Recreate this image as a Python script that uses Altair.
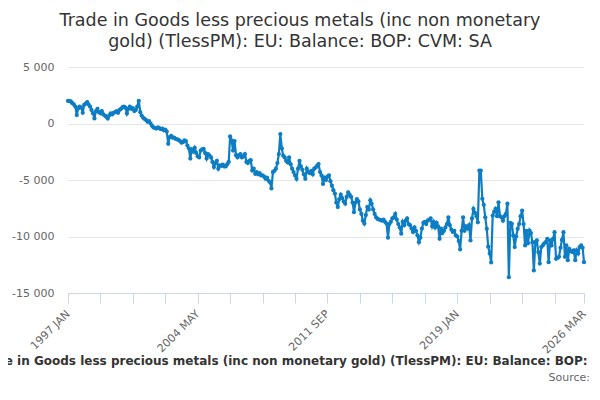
import altair as alt
import pandas as pd

title_lines = ["Trade in Goods less precious metals (inc non monetary",
               "gold) (TlessPM): EU: Balance: BOP: CVM: SA"]
series_name = "Trade in Goods less precious metals (inc non monetary gold) (TlessPM): EU: Balance: BOP: CVM: SA"
source_text = "Source:"
first_month = "1997-01-01"

# monthly values, GBP million, 1997 JAN .. 2026 MAR
balance = [
    2000, 1980, 1950, 1800, 1700, 1500, 750, 1350, 1500, 1400, 950, 1650,
    1750, 1900, 1700, 1500, 1200, 900, 450, 1100, 1300, 1000, 900, 1100,
    800, 700, 600, 440, 700, 900, 800, 950, 1000, 1100, 950, 1200,
    1300, 1450, 1500, 1400, 880, 1300, 1500, 1300, 1350, 1100, 1200, 1500,
    2000, 1000, 700, 500, 400, 300, 150, 200, 0, -200, -350, -400,
    -450, -350, -400, -500, -450, -600, -550, -700, -1800, -1200, -1100, -1250,
    -1250, -1350, -1400, -1450, -1550, -1700, -1650, -1500, -1550, -1950, -2200, -3100,
    -2300, -2500, -2150, -2600, -2900, -3000, -2400, -2300, -2250, -2600, -3100, -2700,
    -2850, -3000, -3400, -3850, -3500, -3300, -4000, -3700, -3750, -3650, -3800, -3800,
    -3600, -3400, -1150, -1500, -2400, -1550, -2800, -3000, -2800, -2700, -3000, -2900,
    -2700, -3400, -3500, -3300, -3250, -4150, -4000, -4450, -4300, -4500, -4400, -4600,
    -4600, -4700, -4900, -4800, -5050, -5200, -5750, -4300, -4200, -4000, -3500, -2700,
    -940, -2200, -2850, -3000, -3300, -3450, -3000, -3600, -4000, -4300, -4600, -4900,
    -4000, -3300, -3800, -4100, -4500, -4900, -4000, -4300, -4400, -4200, -4500, -4000,
    -3900, -3730, -3590, -4300, -4600, -5350, -4800, -5000, -4700, -4600, -5100, -5500,
    -5900, -6200, -7000, -7400, -6700, -6300, -6600, -6900, -7100, -6500, -6100, -6300,
    -6500, -7000, -7850, -7000, -6700, -6900, -7600, -8000, -8600, -8850, -8100, -7400,
    -7600, -6800, -7100, -7600, -8000, -8300, -8450, -8500, -8550, -8600, -8500, -8700,
    -8850, -10100, -8900, -8700, -8400, -8300, -8000, -8500, -8900, -9200, -9750, -8700,
    -9000, -8600, -8400, -8900, -9000, -9300, -9600, -9200, -9500, -9900, -10500, -10100,
    -9300, -8800, -8700, -8900, -8600, -8500, -8400, -9100, -8700, -9200, -8800, -9100,
    -10200, -9300, -9700, -9500, -9200, -8900, -8300, -9000, -9400, -9600, -9500, -9900,
    -10000, -10400, -11150, -9500, -8300, -9500, -9100, -9300, -9000, -10350, -8400, -7560,
    -7900, -8200, -8740, -4170, -4170, -6670, -7200, -8300, -9320, -10900, -11500, -12300,
    -8150, -7800, -7560, -8200, -6970, -8200, -8300, -8600, -8200, -8000, -7100, -13600,
    -8800, -8880, -9910, -10940, -10000, -9320, -8900, -8200, -7700, -8900, -10790, -9500,
    -10600, -9470, -9700, -10500, -13000, -10500, -10350, -11380, -12400, -10940, -10790, -10600,
    -10500, -10200, -12270, -10350, -10800, -10200, -9620, -11970, -11900, -11800, -11000, -10300,
    -9620, -11800, -10790, -12100, -11100, -11300, -11380, -11230, -12100, -11230, -11500, -10940,
    -10790, -11000, -12270,
]

# x-axis ticks (year, month) and which of them carry a label
x_ticks = [(1997, 1), (1998, 11), (2000, 9), (2002, 7), (2004, 5), (2006, 3), (2008, 1),
           (2009, 11), (2011, 9), (2013, 7), (2015, 5), (2017, 3), (2019, 1), (2020, 11),
           (2022, 9), (2024, 7), (2026, 3)]
x_labels = ["1997 JAN", "2004 MAY", "2011 SEP", "2019 JAN", "2026 MAR"]
y_ticks = [-15000, -10000, -5000, 0, 5000]
y_domain = [-15000, 5000]

dates = pd.date_range(first_month, periods=len(balance), freq="MS").strftime("%Y-%m-%d")
df = pd.DataFrame({"date": dates, "value": balance})

blue = "#0d7dc4"
font = "DejaVu Sans"

label_list = "[" + ",".join("'" + s + "'" for s in x_labels) + "]"
x_label_expr = ("indexof(" + label_list + ", upper(utcFormat(datum.value, '%Y %b'))) >= 0 ? "
                "upper(utcFormat(datum.value, '%Y %b')) : ''")
y_label_expr = "replace(replace(format(datum.value, ','), ',', ' '), '\u2212', '-')"

line = alt.Chart(df).mark_line(
    color=blue, strokeWidth=2.2,
    point=alt.OverlayMarkDef(filled=True, size=18, color=blue),
).encode(
    x=alt.X("date:T",
            scale=alt.Scale(type="utc", domain=[dates[0], dates[-1]], nice=False),
            axis=alt.Axis(
                values=[alt.DateTime(year=y, month=m, date=1, utc=True) for y, m in x_ticks],
                labelExpr=x_label_expr, labelAngle=-45, labelAlign="right",
                labelBaseline="middle", labelFont=font, labelFontSize=11,
                labelColor="#666666", labelPadding=9, labelOverlap=False,
                tickSize=10, tickColor="#ccd6eb", domainColor="#ccd6eb",
                grid=False, title=None)),
    y=alt.Y("value:Q",
            scale=alt.Scale(domain=y_domain, nice=False, zero=False),
            axis=alt.Axis(values=y_ticks, labelExpr=y_label_expr, labelFont=font,
                          labelFontSize=11, labelColor="#666666", labelPadding=14,
                          ticks=False, domain=False, gridColor="#e6e6e6",
                          title=None)),
)

legend_text = alt.Chart(pd.DataFrame({"t": [series_name]})).mark_text(
    font=font, fontSize=12, fontWeight="bold", color="#333333",
    align="center", baseline="middle",
).encode(text="t:N", x=alt.value(244), y=alt.value(294))

source = alt.Chart(pd.DataFrame({"t": [source_text]})).mark_text(
    font=font, fontSize=11, color="#666666", align="right", baseline="middle",
).encode(text="t:N", x=alt.value(522), y=alt.value(311))

chart = alt.layer(line, legend_text, source).properties(
    width=516, height=226,
    title=alt.TitleParams(text=title_lines, font=font, fontSize=17.5, fontWeight="normal",
                          color="#333333", anchor="middle", dx=-26, lineHeight=21,
                          offset=11),
    autosize=alt.AutoSizeParams(type="none"),
    padding={"left": 60, "top": 59, "right": 8, "bottom": 99},
).configure_view(stroke=None)

chart.save("out.html", embed_options={"renderer": "svg", "actions": False})
